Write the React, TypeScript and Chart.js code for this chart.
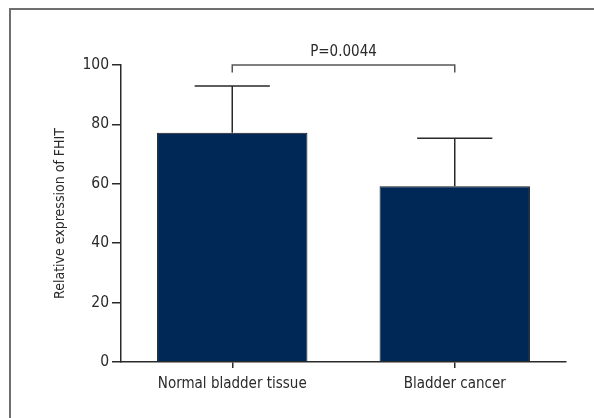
import React, { useEffect, useRef } from "react";
import { Chart, registerables } from "chart.js";

Chart.register(...registerables);

const categories = ["Normal bladder tissue", "Bladder cancer"];
const means = [77.2, 59.2];
const errorTops = [92.9, 75.3];
const yTicks = [0, 20, 40, 60, 80, 100];
const pLabel = "P=0.0044";
const bracketValue = 100;
const bracketDrop = 2.5;

const FONT = '"Liberation Sans Narrow", "DejaVu Sans Condensed", sans-serif';
const INK = "#2a2a2a";

const annotations = {
  id: "annotations",
  afterDatasetsDraw(chart: any) {
    const { ctx, scales } = chart;
    const x = scales.x;
    const y = scales.y;
    const meta = chart.getDatasetMeta(0);
    ctx.save();
    ctx.strokeStyle = INK;
    ctx.lineWidth = 1.5;
    meta.data.forEach((bar: any, i: number) => {
      const cx = bar.x;
      const yTop = y.getPixelForValue(errorTops[i]);
      const yMean = y.getPixelForValue(means[i]);
      const half = bar.width / 4;
      ctx.beginPath();
      ctx.moveTo(cx, yMean);
      ctx.lineTo(cx, yTop);
      ctx.moveTo(cx - half, yTop);
      ctx.lineTo(cx + half, yTop);
      ctx.stroke();
    });
    const x0 = x.getPixelForValue(0);
    const x1 = x.getPixelForValue(1);
    const yb = y.getPixelForValue(bracketValue);
    const yd = y.getPixelForValue(bracketValue - bracketDrop);
    ctx.strokeStyle = "#555";
    ctx.beginPath();
    ctx.moveTo(x0, yd);
    ctx.lineTo(x0, yb);
    ctx.lineTo(x1, yb);
    ctx.lineTo(x1, yd);
    ctx.stroke();
    ctx.fillStyle = INK;
    ctx.font = `15px ${FONT}`;
    ctx.textAlign = "center";
    ctx.textBaseline = "alphabetic";
    ctx.fillText(pLabel, (x0 + x1) / 2, yb - 9);
    ctx.restore();
  },
};

export default function App() {
  const ref = useRef<HTMLCanvasElement>(null);
  useEffect(() => {
    document.body.style.margin = "0";
    const chart = new Chart(ref.current!, {
      type: "bar",
      data: {
        labels: categories,
        datasets: [
          {
            data: means,
            backgroundColor: "#002856",
            borderColor: "#1a1a1a",
            borderWidth: 1,
            barPercentage: 0.676,
            categoryPercentage: 1,
          },
        ],
      },
      options: {
        responsive: false,
        animation: false,
        layout: { padding: { left: 44, right: 28, top: 65, bottom: 0 } },
        plugins: { legend: { display: false }, tooltip: { enabled: false } },
        scales: {
          x: {
            grid: {
              offset: false,
              drawOnChartArea: false,
              drawTicks: true,
              tickLength: 6,
              color: INK,
              lineWidth: 1.5,
            },
            border: { display: true, color: INK, width: 1.5 },
            ticks: { color: INK, font: { family: FONT, size: 15 }, padding: 7 },
            afterFit(scale: any) {
              scale.height = 56;
            },
          },
          y: {
            min: 0,
            max: 100,
            afterBuildTicks(scale: any) {
              scale.ticks = yTicks.map((v) => ({ value: v }));
            },
            grid: {
              drawOnChartArea: false,
              drawTicks: true,
              tickLength: 9,
              color: INK,
              lineWidth: 1.5,
            },
            border: { display: true, color: INK, width: 1.5 },
            ticks: { color: INK, font: { family: FONT, size: 15.5 }, padding: 3 },
            title: {
              display: true,
              text: "Relative expression of FHIT",
              color: INK,
              font: { family: FONT, size: 14 },
              padding: { top: 8, bottom: 0 },
            },
            afterFit(scale: any) {
              scale.width = 77;
            },
          },
        },
      },
      plugins: [annotations],
    });
    return () => chart.destroy();
  }, []);
  return (
    <div style={{ position: "relative", width: 594, height: 418, overflow: "hidden", background: "#fff" }}>
      <div
        style={{
          position: "absolute",
          left: 9,
          top: 8,
          width: 700,
          height: 500,
          borderLeft: "2px solid #6f6f6f",
          borderTop: "2px solid #6f6f6f",
        }}
      />
      <canvas ref={ref} width={594} height={418} style={{ position: "absolute", left: 0, top: 0 }} />
    </div>
  );
}
